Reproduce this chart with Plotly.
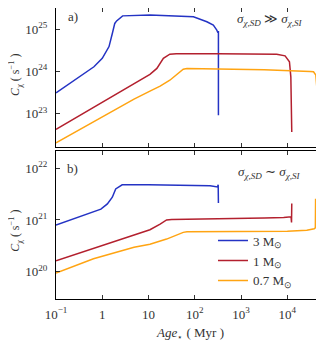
import numpy as np
import plotly.graph_objects as go

# log10(Age / Myr) y log10(C_chi / s^-1), leidos del grafico
# panel a) sigma_SD >> sigma_SI
blue_a_logt = [-1.0, -0.5, -0.18, 0.0, 0.146, 0.217, 0.27, 0.31, 0.334, 0.384, 0.44, 1.03, 1.97, 2.26, 2.40, 2.475, 2.50, 2.51, 2.51]
blue_a_logc = [23.49, 23.86, 24.11, 24.31, 24.59, 24.90, 25.14, 25.20, 25.22, 25.26, 25.32, 25.34, 25.30, 25.18, 25.10, 24.98, 24.92, 24.96, 22.96]
red_a_logt = [-1.0, 0.686, 1.03, 1.18, 1.32, 1.46, 1.6, 2.5, 3.77, 3.95, 4.02, 4.045, 4.075, 4.095]
red_a_logc = [22.62, 23.70, 23.93, 24.07, 24.31, 24.41, 24.42, 24.42, 24.41, 24.37, 24.27, 24.23, 23.87, 22.56]
orange_a_logt = [-1.0, 0.686, 1.03, 1.25, 1.46, 1.75, 1.83, 2.5, 3.5, 4.49, 4.565, 4.615, 4.636, 4.65]
orange_a_logc = [22.30, 23.34, 23.53, 23.65, 23.79, 24.05, 24.07, 24.06, 24.04, 24.00, 23.99, 23.91, 23.63, 22.46]

# panel b) sigma_SD ~ sigma_SI
blue_b_logt = [-1.0, -0.5, -0.03, 0.11, 0.217, 0.29, 0.362, 0.43, 1.0, 2.0, 2.33, 2.49, 2.505, 2.51]
blue_b_logc = [20.90, 21.06, 21.21, 21.31, 21.44, 21.60, 21.64, 21.68, 21.68, 21.67, 21.66, 21.64, 21.68, 21.33]
red_b_logt = [-1.0, -0.2, 0.686, 1.03, 1.25, 1.39, 1.5, 2.5, 3.5, 3.92, 4.08, 4.09, 4.095]
red_b_logc = [20.21, 20.45, 20.71, 20.81, 20.92, 21.00, 21.01, 21.02, 21.04, 21.05, 21.06, 20.95, 21.32]
orange_b_logt = [-1.0, -0.19, 0.686, 1.03, 1.39, 1.75, 1.83, 2.5, 3.5, 4.0, 4.42, 4.58, 4.605, 4.61]
orange_b_logc = [19.97, 20.25, 20.47, 20.53, 20.63, 20.76, 20.77, 20.77, 20.77, 20.78, 20.80, 20.83, 20.85, 21.41]

masses = ["3 M<sub>⊙</sub>", "1 M<sub>⊙</sub>", "0.7 M<sub>⊙</sub>"]
colors = ["#2433c4", "#b3202e", "#ffa412"]

x_tickvals = [0.1, 1, 10, 100, 1000, 10000]
x_ticktext = ["10<sup>−1</sup>", "1", "10", "10<sup>2</sup>", "10<sup>3</sup>", "10<sup>4</sup>"]
ya_tickvals = [1e23, 1e24, 1e25]
ya_ticktext = ["10<sup>23</sup>", "10<sup>24</sup>", "10<sup>25</sup>"]
yb_tickvals = [1e20, 1e21, 1e22]
yb_ticktext = ["10<sup>20</sup>", "10<sup>21</sup>", "10<sup>22</sup>"]

font = "Liberation Serif"

fig = go.Figure()

panel_a = [(blue_a_logt, blue_a_logc), (red_a_logt, red_a_logc), (orange_a_logt, orange_a_logc)]
panel_b = [(blue_b_logt, blue_b_logc), (red_b_logt, red_b_logc), (orange_b_logt, orange_b_logc)]

for (lt, lc), name, col in zip(panel_a, masses, colors):
    fig.add_trace(go.Scatter(x=10 ** np.array(lt), y=10 ** np.array(lc), mode="lines",
                             line=dict(color=col, width=1.5), name=name, showlegend=False,
                             xaxis="x", yaxis="y"))
for (lt, lc), name, col in zip(panel_b, masses, colors):
    fig.add_trace(go.Scatter(x=10 ** np.array(lt), y=10 ** np.array(lc), mode="lines",
                             line=dict(color=col, width=1.5), name=name,
                             xaxis="x2", yaxis="y2"))

axis_style = dict(showline=True, linecolor="black", linewidth=1.2, mirror="allticks",
                  ticks="inside", ticklen=4, tickcolor="#333", tickwidth=1,
                  showgrid=False, zeroline=False, type="log", automargin=False,
                  tickfont=dict(family=font, size=13, color="#333"))

# la pagina tiene 8 px de margen en body: la figura se hace 8 px mas pequena
fig.update_layout(
    width=316, height=334,
    margin=dict(l=48, r=1, t=0, b=43, autoexpand=False),
    plot_bgcolor="white", paper_bgcolor="white",
    font=dict(family=font, size=13, color="#333"),
    xaxis=dict(axis_style, domain=[0, 1], anchor="y", range=[-1, 4.77],
               tickvals=x_tickvals, showticklabels=False),
    yaxis=dict(axis_style, domain=[0.522, 1], anchor="x", range=[22.2, 25.507],
               tickvals=ya_tickvals, ticktext=ya_ticktext, ticklabelstandoff=5),
    xaxis2=dict(axis_style, domain=[0, 1], anchor="y2", range=[-1, 4.77],
                tickvals=x_tickvals, ticktext=x_ticktext, ticklabelstandoff=3),
    yaxis2=dict(axis_style, domain=[0, 0.5086], anchor="x2", range=[19.47, 22.335],
                tickvals=yb_tickvals, ticktext=yb_ticktext, ticklabelstandoff=5),
    legend=dict(x=0.588, y=0.252, xanchor="left", yanchor="top", bgcolor="rgba(0,0,0,0)",
                font=dict(family=font, size=13, color="#333"), tracegroupgap=0),
    showlegend=True,
)

ann = dict(xref="paper", yref="paper", showarrow=False, xanchor="center", yanchor="middle",
           font=dict(family=font, size=13, color="#333"))
fig.add_annotation(ann, x=0.062, y=0.972, text="a)")
fig.add_annotation(ann, x=0.062, y=0.450, text="b)")
fig.add_annotation(ann, x=0.801, y=0.962, text="<i>σ<sub>χ,SD</sub></i> ≫ <i>σ<sub>χ,SI</sub></i>")
fig.add_annotation(ann, x=0.801, y=0.436, text="<i>σ<sub>χ,SD</sub></i> ∼ <i>σ<sub>χ,SI</sub></i>")
fig.add_annotation(ann, x=-0.150, y=0.770, textangle=-90, text="<i>C</i><sub>χ</sub> ( s<sup>−1</sup> )",
                   font=dict(family=font, size=12, color="#333"))
fig.add_annotation(ann, x=-0.150, y=0.234, textangle=-90, text="<i>C</i><sub>χ</sub> ( s<sup>−1</sup> )",
                   font=dict(family=font, size=12, color="#333"))
fig.add_annotation(ann, x=0.502, y=-0.117, text="<i>Age</i><sub>⋆</sub> ( Myr )")

fig.write_html("out.html")
